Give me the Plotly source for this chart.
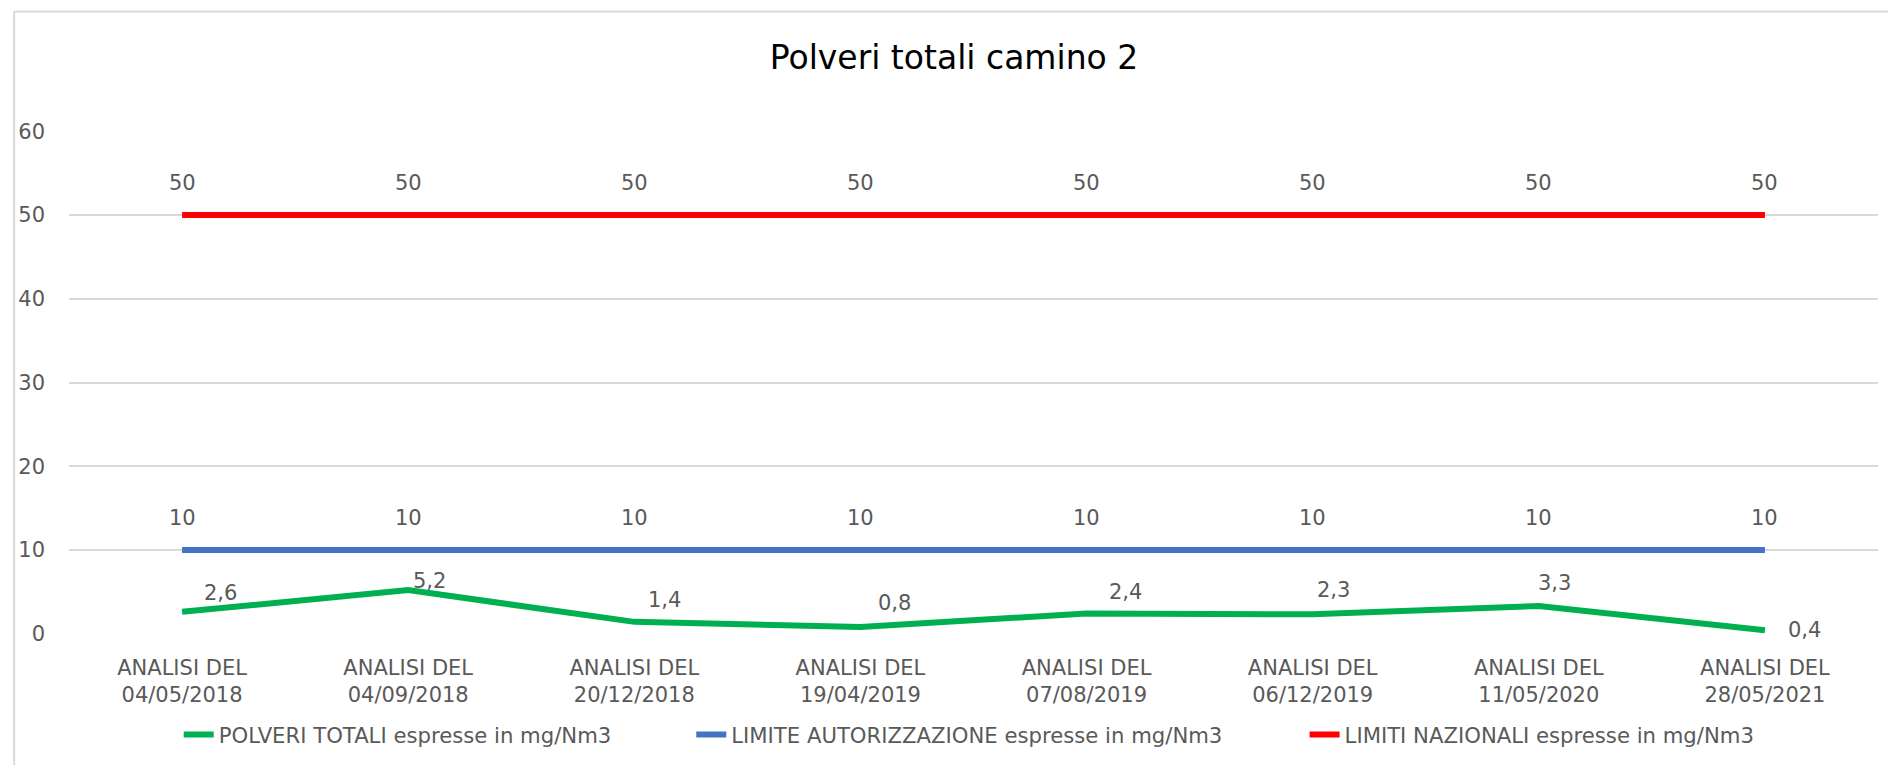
import plotly.graph_objects as go

categories = ["ANALISI DEL<br>04/05/2018", "ANALISI DEL<br>04/09/2018", "ANALISI DEL<br>20/12/2018",
              "ANALISI DEL<br>19/04/2019", "ANALISI DEL<br>07/08/2019", "ANALISI DEL<br>06/12/2019",
              "ANALISI DEL<br>11/05/2020", "ANALISI DEL<br>28/05/2021"]
polveri = [2.6, 5.2, 1.4, 0.8, 2.4, 2.3, 3.3, 0.4]
limite_aut = [10, 10, 10, 10, 10, 10, 10, 10]
limiti_naz = [50, 50, 50, 50, 50, 50, 50, 50]

names = ["POLVERI TOTALI espresse in mg/Nm3", "LIMITE AUTORIZZAZIONE espresse in mg/Nm3",
         "LIMITI NAZIONALI espresse in mg/Nm3"]
colors = ["#00B050", "#4472C4", "#FF0000"]

# label offsets (pixels) for the green series labels
green_shift = [(38, 19), (21, 9), (30, 22), (34, 24), (39, 22), (21, 24), (16, 23), (40, 0)]

FONT = "DejaVu Sans"
GRAY = "#595959"

W, H = 1880, 757
L, R, T, B = 56, 10, 123, 125
PW, PH = W - L - R, H - T - B
PAGE = 8  # body margin of the html page


def px_x(page_x):
    return (page_x - PAGE - L) / PW


def px_y(page_y):
    return 1 - (page_y - PAGE - T) / PH


def fmt(v):
    return ("%g" % v).replace(".", ",")


legend_ids = ["legend", "legend2", "legend3"]
legend_text_start = [219, 733, 1345]  # page px where legend text begins

fig = go.Figure()
for vals, name, col, lid in zip([polveri, limite_aut, limiti_naz], names, colors, legend_ids):
    fig.add_trace(go.Scatter(x=categories, y=vals, mode="lines", name=name, legend=lid,
                             line=dict(color=col, width=6)))

annotations = []
for i, c in enumerate(categories):
    annotations.append(dict(x=c, y=limiti_naz[i], text=fmt(limiti_naz[i]), showarrow=False,
                            yanchor="middle", xanchor="center", yshift=32,
                            font=dict(family=FONT, size=21, color=GRAY)))
    annotations.append(dict(x=c, y=limite_aut[i], text=fmt(limite_aut[i]), showarrow=False,
                            yanchor="middle", xanchor="center", yshift=32,
                            font=dict(family=FONT, size=21, color=GRAY)))
    dx, dy = green_shift[i]
    annotations.append(dict(x=c, y=polveri[i], text=fmt(polveri[i]), showarrow=False,
                            yanchor="middle", xanchor="center", xshift=dx, yshift=dy,
                            font=dict(family=FONT, size=21, color=GRAY)))

legend_common = dict(orientation="h", xanchor="left", yanchor="middle", y=px_y(742),
                     font=dict(family=FONT, size=21.2, color=GRAY), bgcolor="rgba(0,0,0,0)")

fig.update_layout(
    width=W, height=H,
    margin=dict(l=L, r=R, t=T, b=B),
    paper_bgcolor="white", plot_bgcolor="white",
    title=dict(text="Polveri totali camino 2", x=(954 - PAGE) / W, xanchor="center",
               y=1 - (57 - PAGE) / H, yanchor="middle",
               font=dict(family=FONT, size=33, color="#000000")),
    xaxis=dict(type="category", range=[-0.5, 7.5], showgrid=False, showline=False, zeroline=False,
               tickfont=dict(family=FONT, size=21, color=GRAY), ticks="", ticklabelstandoff=19),
    yaxis=dict(range=[-0.05, 60.05], dtick=10, showgrid=True, gridcolor="#D9D9D9", gridwidth=1.5,
               zeroline=False, showline=False, ticks="", ticklabelstandoff=23,
               tickfont=dict(family=FONT, size=21, color=GRAY)),
    legend=dict(legend_common, x=px_x(legend_text_start[0] - 45)),
    legend2=dict(legend_common, x=px_x(legend_text_start[1] - 45)),
    legend3=dict(legend_common, x=px_x(legend_text_start[2] - 42)),
    annotations=annotations,
    showlegend=True,
)

frame_x = px_x(9)
frame_y = px_y(10)
fig.add_shape(type="line", xref="paper", yref="paper", x0=frame_x, x1=frame_x, y0=frame_y, y1=-0.35,
              line=dict(color="#D9D9D9", width=2))
fig.add_shape(type="line", xref="paper", yref="paper", x0=frame_x, x1=1.05, y0=frame_y, y1=frame_y,
              line=dict(color="#D9D9D9", width=2))

fig.write_html("out.html")
